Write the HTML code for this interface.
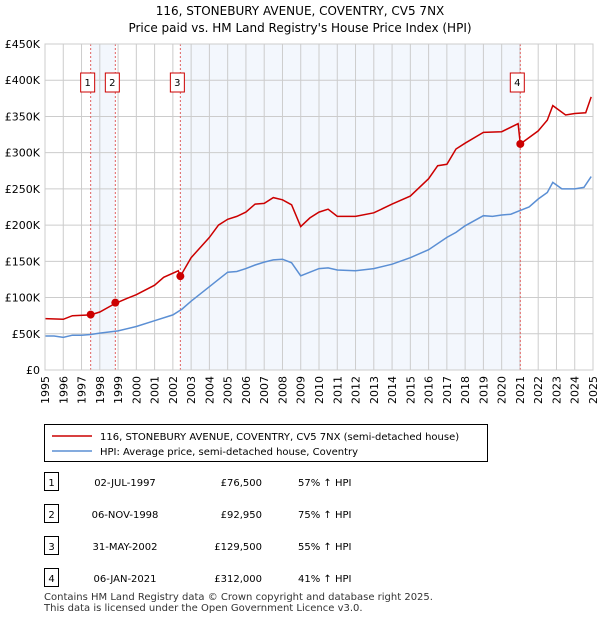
<!DOCTYPE html>
<html><head><meta charset="utf-8"><style>
body{margin:0;background:#fff;font-family:"Liberation Sans",sans-serif;}
svg text{font-family:"DejaVu Sans","Liberation Sans",sans-serif;}
</style></head><body>
<svg id="c" width="600" height="620" xmlns="http://www.w3.org/2000/svg">
<text x="300" y="15" font-size="12" text-anchor="middle" fill="#000">116, STONEBURY AVENUE, COVENTRY, CV5 7NX</text>
<text x="300" y="32" font-size="12" text-anchor="middle" fill="#000">Price paid vs. HM Land Registry's House Price Index (HPI)</text>
<g id="plot"></g>
<rect x="44.5" y="424.5" width="443" height="37" fill="#fff" stroke="#000"/>
<line x1="52" y1="436" x2="92" y2="436" stroke="#cc0000" stroke-width="1.5"/>
<text x="100" y="440" font-size="10">116, STONEBURY AVENUE, COVENTRY, CV5 7NX (semi-detached house)</text>
<line x1="52" y1="451" x2="92" y2="451" stroke="#5b8fd4" stroke-width="1.5"/>
<text x="100" y="455" font-size="10">HPI: Average price, semi-detached house, Coventry</text>
<g id="tbl" font-size="10"></g>
<text x="44" y="600" font-size="10" fill="#333">Contains HM Land Registry data © Crown copyright and database right 2025.</text>
<text x="44" y="611" font-size="10" fill="#333">This data is licensed under the Open Government Licence v3.0.</text>
</svg>
<script>
const hpiT=[1995,1995.5,1996,1996.5,1997,1997.5,1998,1999,2000,2001,2002,2002.5,2003,2004,2004.5,2005,2005.5,2006,2006.5,2007,2007.5,2008,2008.5,2009,2009.5,2010,2010.5,2011,2012,2013,2014,2015,2016,2017,2017.5,2018,2019,2019.5,2020,2020.5,2021,2021.5,2022,2022.5,2022.8,2023.3,2024,2024.5,2024.9];
const hpiV=[47,47,45,48,48,49,51,54,60,68,76,84,95,115,125,135,136,140,145,149,152,153,148,130,135,140,141,138,137,140,146,155,166,183,190,199,213,212,214,215,220,225,236,245,259,250,250,252,267];
const ppT=[1995,1996,1996.5,1997.5,1998,1998.85,1999.5,2000,2001,2001.5,2002.3,2002.41,2003,2004,2004.5,2005,2005.5,2006,2006.5,2007,2007.5,2008,2008.5,2009,2009.5,2010,2010.5,2011,2012,2013,2014,2015,2016,2016.5,2017,2017.5,2018,2019,2020,2020.9,2021.02,2022,2022.5,2022.8,2023.5,2024,2024.6,2024.9];
const ppV=[71,70,75,76,80,92,99,104,117,128,137,129.5,155,183,200,208,212,218,229,230,238,235,228,198,210,218,222,212,212,217,229,240,264,282,284,305,313,328,329,340,312,330,345,365,352,354,355,377];
const saleT=[1997.5,1998.85,2002.41,2021.02];
const saleV=[76.5,92.95,129.5,312];
const saleDates=["02-JUL-1997","06-NOV-1998","31-MAY-2002","06-JAN-2021"];
const salePrices=["£76,500","£92,950","£129,500","£312,000"];
const saleHpi=["57% ↑ HPI","75% ↑ HPI","55% ↑ HPI","41% ↑ HPI"];
const yTicks=[0,50,100,150,200,250,300,350,400,450];
const yLabels=["£0","£50K","£100K","£150K","£200K","£250K","£300K","£350K","£400K","£450K"];
const x0=45,x1=593,yb=370,yt=44;
const X=t=>x0+(t-1995)/30*(x1-x0);
const Y=v=>yb-v/450*(yb-yt);
const NS="http://www.w3.org/2000/svg";
function mk(p,tag,a){const e=document.createElementNS(NS,tag);for(const k in a)e.setAttribute(k,a[k]);p.appendChild(e);return e;}
const g=document.getElementById('plot');
let r=mk(g,'rect',{x:X(saleT[0]),y:yt,width:X(saleT[1])-X(saleT[0]),height:yb-yt,fill:'#eef3fc',opacity:0.7});


r=mk(g,'rect',{x:X(saleT[2]),y:yt,width:X(saleT[3])-X(saleT[2]),height:yb-yt,fill:'#eef3fc',opacity:0.7});


for(let yr=1995;yr<=2025;yr++){
 const l=mk(g,'line',{x1:X(yr),x2:X(yr),y1:yt,y2:yb,stroke:'#ccc'});
 
 
 const tx=X(yr)+4;
 const t=mk(g,'text',{x:tx,y:404,'font-size':11,transform:`rotate(-90 ${tx} 404)`});
 t.textContent=yr;
 
 
}
yTicks.forEach((v,i)=>{
 const l=mk(g,'line',{x1:x0,x2:x1,y1:Y(v),y2:Y(v),stroke:'#ccc'});
 
 
 const t=mk(g,'text',{x:40,y:Y(v)+4,'font-size':11,'text-anchor':'end'});
 t.textContent=yLabels[i];
 
 
});
saleT.forEach((t,i)=>{
 const l=mk(g,'line',{x1:X(t),x2:X(t),y1:yt,y2:yb,stroke:'#e06060','stroke-dasharray':'2,2'});
 
 
 const bx=X(t)-10;
 const b=mk(g,'rect',{x:bx,y:73,width:14,height:19,fill:'#fff',stroke:'#cc0000'});
 
 
 const tt=mk(g,'text',{x:bx+7,y:86,'font-size':10,'text-anchor':'middle'});
 tt.textContent=i+1;
 
 
});
const path=(T,V)=>T.map((t,i)=>(i?'L':'M')+X(t).toFixed(1)+','+Y(V[i]).toFixed(1)).join('');
let p=mk(g,'path',{d:path(hpiT,hpiV),fill:'none',stroke:'#5b8fd4','stroke-width':1.5});


p=mk(g,'path',{d:path(ppT,ppV),fill:'none',stroke:'#cc0000','stroke-width':1.5});


saleT.forEach((t,i)=>{
 const c=mk(g,'circle',{cx:X(t),cy:Y(saleV[i]),r:4,fill:'#cc0000'});
 
 
});
mk(g,'rect',{x:x0,y:yt,width:x1-x0,height:yb-yt,fill:'none',stroke:'#ccc'});
const tb=document.getElementById('tbl');
saleDates.forEach((d,i)=>{
 const y=482+i*32;
 const b=mk(tb,'rect',{x:44.5,y:y-9.5,width:14,height:18,fill:'#fff',stroke:'#000'});
 
 
 const vals=[[51.5,String(i+1),'middle'],[125,d,'middle'],[262,salePrices[i],'end'],[298,saleHpi[i],'start']];
 vals.forEach(([x,s,a])=>{const t=mk(tb,'text',{x:x,y:y+4,'text-anchor':a});t.textContent=s;
  
  });
});
</script>
</body></html>
